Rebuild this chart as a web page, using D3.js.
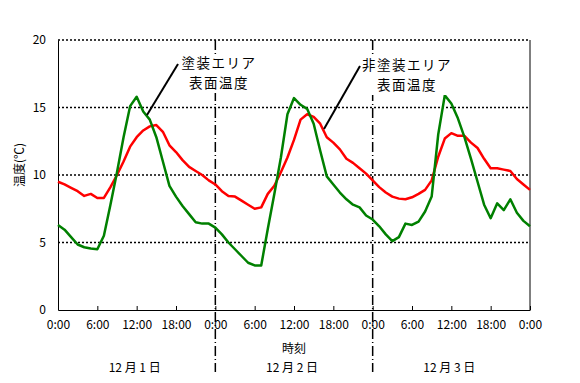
<!DOCTYPE html>
<html>
<head>
<meta charset="utf-8">
<script src="https://cdn.jsdelivr.net/npm/d3@7"></script>
<style>
  body { margin: 0; background: #fff; }
  text { font-family: "Noto Sans CJK JP", "DejaVu Sans", sans-serif; }
</style>
</head>
<body>
<div id="chart"></div>
<script>
// hourly readings, 12/1 0:00 .. 12/4 0:00
const hours = d3.range(0, 73);
const uncoated = [9.5, 9.3, 9.05, 8.8, 8.45, 8.6, 8.3, 8.3, 9.1, 10.0, 11.0, 12.1, 12.8, 13.3, 13.6, 13.7, 13.2, 12.2, 11.7, 11.1, 10.6, 10.3, 10.0, 9.6,
  9.3, 8.8, 8.45, 8.4, 8.1, 7.8, 7.5, 7.6, 8.6, 9.2, 10.2, 11.3, 12.6, 14.1, 14.5, 14.3, 13.8, 12.8, 12.4, 11.9, 11.2, 10.9, 10.5, 10.1,
  9.6, 9.1, 8.7, 8.4, 8.25, 8.2, 8.35, 8.6, 8.9, 9.6, 11.35, 12.7, 13.1, 12.9, 12.9, 12.4, 12.0, 11.2, 10.5, 10.5, 10.4, 10.3, 9.7, 9.3, 8.9];
const coated = [6.3, 5.95, 5.4, 4.85, 4.65, 4.55, 4.5, 5.5, 7.8, 10.2, 12.8, 15.1, 15.8, 14.7, 14.1, 12.8, 11.0, 9.2, 8.4, 7.7, 7.1, 6.5, 6.4, 6.4,
  6.1, 5.6, 5.0, 4.5, 4.0, 3.5, 3.3, 3.3, 6.0, 8.6, 11.3, 14.5, 15.7, 15.2, 14.9, 13.8, 11.8, 9.9, 9.3, 8.7, 8.2, 7.8, 7.6, 7.0,
  6.7, 6.2, 5.6, 5.1, 5.4, 6.4, 6.3, 6.55, 7.3, 8.4, 13.0, 15.9, 15.3, 14.2, 12.8, 11.2, 9.5, 7.8, 6.8, 7.9, 7.4, 8.2, 7.2, 6.6, 6.2];

const xTicks = [0, 6, 12, 18, 24, 30, 36, 42, 48, 54, 60, 66, 72];
const xTickLabels = ["0:00", "6:00", "12:00", "18:00", "0:00", "6:00", "12:00", "18:00", "0:00", "6:00", "12:00", "18:00", "0:00"];
const yTicks = [0, 5, 10, 15, 20];
const dayBreaks = [24, 48];
const dayLabels = ["12 月 1 日", "12 月 2 日", "12 月 3 日"];

const width = 580, height = 383;
const margin = { top: 40, right: 50, bottom: 73, left: 58 };

const svg = d3.select("#chart").append("svg")
  .attr("width", width)
  .attr("height", height);

const x = d3.scaleLinear().domain([0, 72]).range([margin.left, width - margin.right]);
const y = d3.scaleLinear().domain([0, 20]).range([height - margin.bottom, margin.top]);

// dotted grid lines (incl. top edge)
svg.append("g")
  .selectAll("line")
  .data(yTicks.filter(d => d > 0))
  .join("line")
  .attr("x1", x(0)).attr("x2", x(72))
  .attr("y1", d => y(d)).attr("y2", d => y(d))
  .attr("stroke", "#000")
  .attr("stroke-width", 1.5)
  .attr("stroke-dasharray", "2,2");

// right border
svg.append("line")
  .attr("x1", x(72)).attr("x2", x(72))
  .attr("y1", y(0)).attr("y2", y(20))
  .attr("stroke", "#000");

// day separators (dash-dot)
svg.append("g")
  .selectAll("line")
  .data(dayBreaks)
  .join("line")
  .attr("x1", d => x(d)).attr("x2", d => x(d))
  .attr("y1", y(20)).attr("y2", 372)
  .attr("stroke", "#000")
  .attr("stroke-width", 1.5)
  .attr("stroke-dasharray", "10,3,1,3");

// axes
const xAxis = svg.append("g")
  .attr("transform", `translate(0,${y(0)})`)
  .call(d3.axisBottom(x).tickValues(xTicks)
    .tickFormat((d, i) => xTickLabels[i])
    .tickSizeInner(-4).tickSizeOuter(0).tickPadding(10));
xAxis.select(".domain").attr("stroke", "#000");
xAxis.selectAll("text").attr("font-size", 12).attr("fill", "#000");

const yAxis = svg.append("g")
  .attr("transform", `translate(${x(0)},0)`)
  .call(d3.axisLeft(y).tickValues(yTicks).tickSize(0).tickPadding(12));
yAxis.select(".domain").attr("stroke", "#000");
yAxis.selectAll("text").attr("font-size", 12).attr("fill", "#000");

// series
const line = d3.line()
  .x((d, i) => x(hours[i]))
  .y(d => y(d));

svg.append("path")
  .datum(uncoated)
  .attr("fill", "none")
  .attr("stroke", "#ff0000")
  .attr("stroke-width", 2.5)
  .attr("stroke-linejoin", "round")
  .attr("d", line);

svg.append("path")
  .datum(coated)
  .attr("fill", "none")
  .attr("stroke", "#008000")
  .attr("stroke-width", 2.5)
  .attr("stroke-linejoin", "round")
  .attr("d", line);

// annotations: white box behind the text hides the dash-dot line
function note(lines, cx, top, from, to) {
  svg.append("line")
    .attr("x1", from[0]).attr("y1", from[1])
    .attr("x2", to[0]).attr("y2", to[1])
    .attr("stroke", "#000").attr("stroke-width", 2);
  const g = svg.append("g");
  g.selectAll("text")
    .data(lines)
    .join("text")
    .attr("x", cx)
    .attr("y", (d, i) => top + i * 20)
    .attr("text-anchor", "middle")
    .attr("font-size", 13.5)
    .attr("letter-spacing", 1.5)
    .text(d => d);
  const w = d3.max(lines, d => d.length) * 15;
  g.insert("rect", "text")
    .attr("x", cx - w / 2).attr("y", top - 13)
    .attr("width", w).attr("height", 20 * lines.length - 2)
    .attr("fill", "#fff");
}
note(["塗装エリア", "表面温度"], 219, 68, [178, 64], [147, 115]);
note(["非塗装エリア", "表面温度"], 407, 70, [360, 66], [324, 129]);

// axis titles
svg.append("text")
  .attr("transform", "translate(24,165) rotate(-90)")
  .attr("text-anchor", "middle")
  .attr("font-size", 12)
  .text("温度(℃)");

svg.append("text")
  .attr("x", x(36)).attr("y", 353)
  .attr("text-anchor", "middle")
  .attr("font-size", 12)
  .text("時刻");

svg.append("g")
  .selectAll("text")
  .data(dayLabels)
  .join("text")
  .attr("x", (d, i) => x(i * 24 + 12) - 2)
  .attr("y", 372)
  .attr("text-anchor", "middle")
  .attr("font-size", 12)
  .text(d => d);
</script>
</body>
</html>
